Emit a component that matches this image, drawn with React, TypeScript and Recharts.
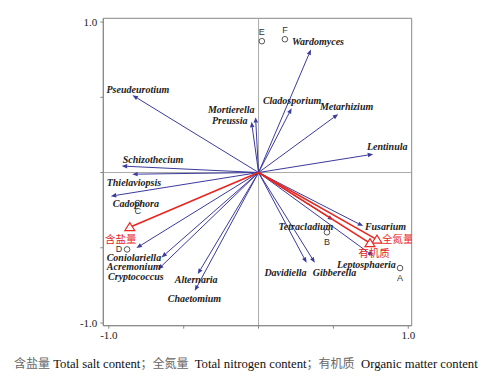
import React from 'react';
import { ScatterChart, Scatter, XAxis, YAxis, ReferenceLine, ReferenceArea } from 'recharts';

// ---- Data ----
const speciesNames = [
  'Pseudeurotium', 'Mortierella', 'Preussia', 'Schizothecium', 'Thielaviopsis',
  'Cadophora', 'Coniolariella', 'Acremonium', 'Cryptococcus', 'Alternaria',
  'Chaetomium', 'Wardomyces', 'Cladosporium', 'Metarhizium', 'Lentinula',
  'Tetracladium', 'Fusarium', 'Leptosphaeria', 'Davidiella', 'Gibberella',
];
const speciesX = [-0.842, -0.020, -0.047, -0.914, -0.844, -0.987, -0.816, -0.648, -0.671, -0.406, -0.426, 0.350, 0.221, 0.532, 0.766, 0.499, 0.699, 0.766, 0.321, 0.376];
const speciesY = [0.514, 0.368, 0.337, 0.043, -0.011, -0.157, -0.502, -0.564, -0.644, -0.675, -0.786, 0.818, 0.428, 0.388, 0.122, -0.316, -0.356, -0.555, -0.600, -0.600];

const envNames = ['含盐量', '全氮量', '有机质'];
const envX = [-0.860, 0.791, 0.744];
const envY = [-0.363, -0.446, -0.469];

const sampleNames = ['A', 'B', 'C', 'D', 'E', 'F'];
const sampleX = [0.945, 0.457, -0.807, -0.878, 0.022, 0.176];
const sampleY = [-0.635, -0.397, -0.203, -0.511, 0.873, 0.886];

const axisTicks = [-1, -0.5, 0, 0.5, 1];
const axisTickLabels: Record<string, string> = { '-1': '-1.0', '1': '1.0' };

// ---- Layout / styling (not data) ----
const xDomain: [number, number] = [-1.037, 1.023];
const yDomain: [number, number] = [-1.018, 1.025];

// label offsets in px relative to arrow tip: [dx, dy, anchor]
const speciesLabelPos: [number, number, string][] = [
  [-26, -2, 'start'], [-1, -4.5, 'end'], [-4, 2, 'end'], [1, -3.5, 'start'], [-25.5, 11.5, 'start'],
  [2, 10.5, 'start'], [-29.7, 12.5, 'start'], [-54.7, 13, 'start'], [-50, 11, 'start'], [-23, 8.5, 'start'],
  [-27, 11, 'start'], [-19, -4, 'start'], [-28.7, -4.5, 'start'], [-18.3, -4, 'start'], [-6.3, -4.5, 'start'],
  [0, 9.5, 'end'], [1.7, 4, 'start'], [-36.3, 12, 'start'], [0, 13.3, 'end'], [-2, 13.3, 'start'],
];
const envLabelPos: [number, number, string][] = [[-9, 15.5, 'middle'], [5, 3, 'start'], [4, 13.5, 'middle']];
const sampleLabelPos: [number, number, string][] = [[0, 13, 'middle'], [0, 12.5, 'middle'], [0, 10.5, 'middle'], [-8, 3, 'middle'], [0, -6, 'middle'], [0, -6, 'middle']];

const BLUE = '#3b3b9c';
const RED = '#e6261f';

const speciesData = speciesNames.map((name, i) => ({ x: speciesX[i], y: speciesY[i], name, i }));
const envData = envNames.map((name, i) => ({ x: envX[i], y: envY[i], name, i }));
const sampleData = sampleNames.map((name, i) => ({ x: sampleX[i], y: sampleY[i], name, i }));

const BlueArrow = (p: any) => {
  const { x1, y1, x2, y2 } = p;
  const ang = Math.atan2(y2 - y1, x2 - x1);
  const L = 5.5, W = 2.2;
  const bx = x2 - L * Math.cos(ang), by = y2 - L * Math.sin(ang);
  const px = -Math.sin(ang) * W, py = Math.cos(ang) * W;
  return (
    <g>
      <line x1={x1} y1={y1} x2={bx} y2={by} stroke={BLUE} strokeWidth={1} />
      <polygon points={`${x2},${y2} ${bx + px},${by + py} ${bx - px},${by - py}`} fill={BLUE} />
    </g>
  );
};

const RedArrow = (p: any) => {
  const { x1, y1, x2, y2 } = p;
  return (
    <g>
      <line x1={x1} y1={y1} x2={x2} y2={y2} stroke={RED} strokeWidth={1.6} />
      <polygon points={`${x2},${y2 - 4.5} ${x2 - 5},${y2 + 3.5} ${x2 + 5},${y2 + 3.5}`} fill="white" stroke={RED} strokeWidth={1.1} />
    </g>
  );
};

const SpeciesLabel = (p: any) => {
  const idx = p.payload.i;
  const [dx, dy, anchor] = speciesLabelPos[idx];
  return (
    <text x={p.cx + dx} y={p.cy + dy} textAnchor={anchor as any} fontFamily="'Liberation Serif', serif" fontStyle="italic" fontWeight="bold" fontSize={10} fill="#222">
      {p.payload.name}
    </text>
  );
};

const EnvLabel = (p: any) => {
  const idx = p.payload.i;
  const [dx, dy, anchor] = envLabelPos[idx];
  return (
    <text x={p.cx + dx} y={p.cy + dy} textAnchor={anchor as any} fontFamily="'Noto Sans CJK SC', sans-serif" fontSize={10.5} fill={RED}>
      {p.payload.name}
    </text>
  );
};

const SampleMark = (p: any) => {
  const idx = p.payload.i;
  const [dx, dy, anchor] = sampleLabelPos[idx];
  return (
    <g>
      <circle cx={p.cx} cy={p.cy} r={2.8} fill="white" stroke="#444" strokeWidth={0.9} />
      <text x={p.cx + dx} y={p.cy + dy} textAnchor={anchor as any} fontFamily="'Liberation Sans', Arial, sans-serif" fontSize={9} fill="#333">
        {p.payload.name}
      </text>
    </g>
  );
};

const cjk = { fontFamily: "'Noto Sans CJK SC', sans-serif", color: '#666', fontSize: 12 };

export default function App() {
  return (
    <div style={{ position: 'relative', width: 486, height: 370 }}>
      <ScatterChart width={486} height={345} margin={{ top: 10.3, right: 82.3, bottom: 0, left: 0 }}>
        <XAxis
          type="number" dataKey="x" domain={xDomain} ticks={axisTicks} allowDataOverflow
          tickFormatter={(v: number) => axisTickLabels[String(v)] ?? ''}
          height={27.3} tickSize={3} tickMargin={2}
          axisLine={{ stroke: '#888' }} tickLine={{ stroke: '#888' }}
          tick={{ fontFamily: "'Liberation Serif', serif", fontSize: 11, fill: '#222' }}
        />
        <YAxis
          type="number" dataKey="y" domain={yDomain} ticks={axisTicks} allowDataOverflow
          tickFormatter={(v: number) => axisTickLabels[String(v)] ?? ''}
          width={95.3} tickSize={3} tickMargin={3}
          axisLine={{ stroke: '#888' }} tickLine={{ stroke: '#888' }}
          tick={{ fontFamily: "'Liberation Serif', serif", fontSize: 11, fill: '#222' }}
        />
        <ReferenceArea x1={xDomain[0]} x2={xDomain[1]} y1={yDomain[0]} y2={yDomain[1]} fill="none" stroke="#888" strokeWidth={1} fillOpacity={0} />
        <ReferenceLine x={0} stroke="#aaa" strokeWidth={1} />
        <ReferenceLine y={0} stroke="#aaa" strokeWidth={1} />
        {speciesData.map((d) => (
          <ReferenceLine key={'s' + d.i} segment={[{ x: 0, y: 0 }, { x: d.x, y: d.y }]} shape={BlueArrow} />
        ))}
        {envData.map((d) => (
          <ReferenceLine key={'e' + d.i} segment={[{ x: 0, y: 0 }, { x: d.x, y: d.y }]} shape={RedArrow} />
        ))}
        <Scatter data={sampleData} shape={SampleMark} isAnimationActive={false} />
        <Scatter data={speciesData} shape={SpeciesLabel} isAnimationActive={false} />
        <Scatter data={envData} shape={EnvLabel} isAnimationActive={false} />
      </ScatterChart>
      <div style={{ position: 'absolute', left: 6, top: 347, whiteSpace: 'nowrap', fontFamily: "'Liberation Serif', serif", fontSize: 12.7, color: '#111', lineHeight: '15px' }}>
        <span style={cjk}>含盐量</span> Total salt content<span style={cjk}>；全氮量</span>&nbsp; Total nitrogen content<span style={cjk}>；有机质</span>&nbsp; Organic matter content
      </div>
    </div>
  );
}
